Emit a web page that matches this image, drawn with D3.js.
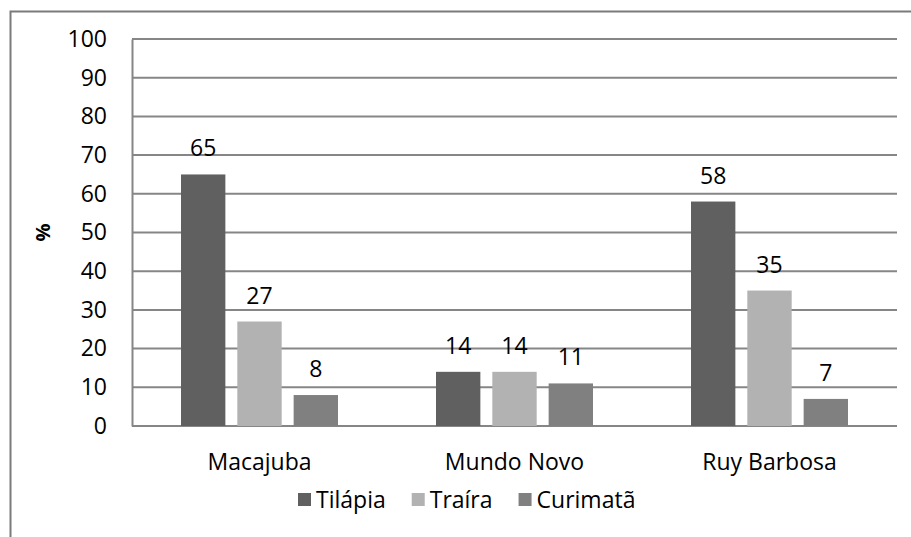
<!DOCTYPE html>
<html>
<head>
<meta charset="utf-8">
<script src="https://cdn.jsdelivr.net/npm/d3@7"></script>
<style>
  html, body { margin: 0; padding: 0; background: #fff; }
  svg { display: block; font-family: "Open Sans", sans-serif; }
</style>
</head>
<body>
<svg id="chart" width="911" height="537"></svg>
<script>
// Share of each fish species (%) by municipality
const categories = ["Macajuba", "Mundo Novo", "Ruy Barbosa"];
const seriesNames = ["Tilápia", "Traíra", "Curimatã"];
const tilapia = [65, 14, 58];
const traira = [27, 14, 35];
const curimata = [8, 11, 7];
const yTicks = [0, 10, 20, 30, 40, 50, 60, 70, 80, 90, 100];
const colors = ["#606060", "#b2b2b2", "#808080"];

const series = [tilapia, traira, curimata];

const svg = d3.select("#chart");
const plot = { left: 132, right: 897, top: 39, bottom: 426 };
const gridColor = "#868686";

// Outer frame (top and left edges)
svg.append("path")
  .attr("d", "M10.5,537 V11.5 H911")
  .attr("fill", "none")
  .attr("stroke", "#7a7a7a")
  .attr("stroke-width", 2);

const y = d3.scaleLinear().domain([0, 100]).range([plot.bottom, plot.top]);
const x0 = d3.scaleBand().domain(categories).range([plot.left, plot.right]).paddingInner(0).paddingOuter(0);
const groupWidth = 157;
const x1 = d3.scaleBand().domain(seriesNames)
  .range([0, groupWidth]).paddingInner(12 / 56.5).paddingOuter(0);

// Horizontal gridlines
svg.append("g").selectAll("line").data(yTicks).join("line")
  .attr("x1", plot.left).attr("x2", plot.right)
  .attr("y1", d => y(d)).attr("y2", d => y(d))
  .attr("stroke", gridColor).attr("stroke-width", 2);

// Y axis
const yAxis = d3.axisLeft(y).tickValues(yTicks).tickSize(0).tickPadding(25);
const gy = svg.append("g").attr("transform", `translate(${plot.left},0)`).call(yAxis);
gy.select(".domain").attr("stroke", gridColor).attr("stroke-width", 2);
gy.selectAll("text").attr("font-size", 23).attr("fill", "#000")
  .attr("font-family", "'Open Sans', sans-serif");

// Y axis title
svg.append("text")
  .attr("transform", `translate(50,${(plot.top + plot.bottom) / 2}) rotate(-90)`)
  .attr("text-anchor", "middle")
  .attr("font-size", 20).attr("font-weight", "bold")
  .text("%");

// Bars
const groups = svg.append("g").selectAll("g").data(categories).join("g")
  .attr("transform", c => `translate(${x0(c) + (x0.bandwidth() - groupWidth) / 2},0)`);

groups.selectAll("rect")
  .data((c, i) => seriesNames.map((s, j) => ({ s, v: series[j][i], j })))
  .join("rect")
  .attr("x", d => x1(d.s))
  .attr("width", x1.bandwidth())
  .attr("y", d => y(d.v))
  .attr("height", d => y(0) - y(d.v))
  .attr("fill", d => colors[d.j]);

// Value labels
groups.selectAll("text.val")
  .data((c, i) => seriesNames.map((s, j) => ({ s, v: series[j][i], j })))
  .join("text")
  .attr("class", "val")
  .attr("x", d => x1(d.s) + x1.bandwidth() / 2)
  .attr("y", d => y(d.v) - 18)
  .attr("text-anchor", "middle")
  .attr("font-size", 23)
  .text(d => d.v);

// Category labels
svg.append("g").selectAll("text").data(categories).join("text")
  .attr("x", c => x0(c) + x0.bandwidth() / 2)
  .attr("y", 470)
  .attr("text-anchor", "middle")
  .attr("font-size", 23)
  .text(c => c);

// Legend
const legend = svg.append("g").attr("transform", "translate(298,0)");
let lx = 0;
seriesNames.forEach((name, i) => {
  const g = legend.append("g").attr("transform", `translate(${lx},0)`);
  g.append("rect").attr("x", 0).attr("y", 493).attr("width", 13).attr("height", 13)
    .attr("fill", colors[i]);
  const t = g.append("text").attr("x", 18).attr("y", 508)
    .attr("font-size", 23).text(name);
  lx += 18 + t.node().getComputedTextLength() + 26;
});
</script>
</body>
</html>
